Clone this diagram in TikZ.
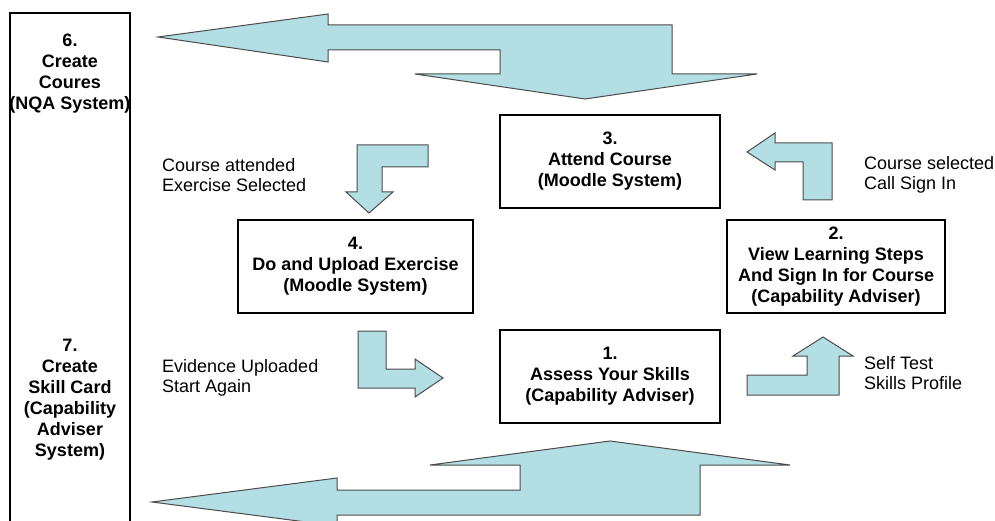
\documentclass[tikz,border=0pt]{standalone}
\usepackage{fontspec}
\setmainfont{Liberation Sans}
\usepackage{tikz}
\usepackage{xcolor}
\definecolor{arrowfill}{RGB}{178,222,228}
\tikzset{stepbox/.style={draw=black,line width=1.4pt,align=center,inner sep=0pt,
   font=\bfseries\fontsize{18}{21}\selectfont},
 sidetext/.style={align=center,inner sep=0pt,font=\bfseries\fontsize{18}{21}\selectfont},
 note/.style={align=left,anchor=west,inner sep=0pt,font=\fontsize{18}{20}\selectfont},
 blockarrow/.style={draw=black!70,line width=1pt,fill=arrowfill},
 }

\begin{document}
\begin{tikzpicture}[x=1pt,y=-1pt]
        \useasboundingbox (0,0) rectangle (995,521);
        \clip (0,0) rectangle (995,521);
        \draw[line width=1.4pt] (10,560) -- (10,13) -- (130,13) -- (130,560);
        \node[sidetext] (six) at (70,74) {6.\\Create\\Coures\\(NQA System)};
        \node[sidetext] (seven) at (70,400) {7.\\Create\\Skill Card\\(Capability\\Adviser\\System)};
        \foreach \nm/\x/\y/\w/\txt in {three/610/161.5/220/{3.\\Attend Course\\(Moodle System)},
            four/355.5/266.5/235/{4.\\Do and Upload Exercise\\(Moodle System)},
            two/836/266.5/218/{2.\\View Learning Steps\\And Sign In for Course\\(Capability Adviser)},
            one/610/376.5/220/{1.\\Assess Your Skills\\(Capability Adviser)}} {
            \node[stepbox, minimum width=\w pt, minimum height=93pt] (\nm) at (\x,\y) {\txt};
        }
        \node[note] (attended) at (162,175) {Course attended\\Exercise Selected};
        \node[note] (uploaded) at (162,378) {Evidence Uploaded\\Start Again};
        \node[note] (selected) at (864,175) {Course selected\\Call Sign In};
        \node[note] (selftest) at (864,373) {Self Test\\Skills Profile};
        \draw[blockarrow] (158,37) -- (328,14) -- (328,25) -- (672,25) -- (672,74) -- (757,74) -- (585,99)
            -- (415,74) -- (500,74) -- (500,50) -- (328,50) -- (328,62) -- cycle;
        \draw[blockarrow] (357,145) -- (428,145) -- (428,167) -- (382,167) -- (382,192) -- (393,192)
            -- (369,213) -- (346,192) -- (357,192) -- cycle;
        \draw[blockarrow] (832,143) -- (832,200) -- (803,200) -- (803,162) -- (775,162) -- (775,170)
            -- (747,152) -- (775,133) -- (775,143) -- cycle;
        \draw[blockarrow] (358,331) -- (386,331) -- (386,369) -- (415,369) -- (415,359) -- (443,378)
            -- (415,397) -- (415,388) -- (358,388) -- cycle;
        \draw[blockarrow] (747,375) -- (807,375) -- (807,356) -- (793,356) -- (823,337) -- (853,356)
            -- (839,356) -- (839,395) -- (747,395) -- cycle;
        \draw[blockarrow] (152,502) -- (337,478) -- (337,490) -- (520,490) -- (520,465) -- (430,465)
            -- (610,441) -- (790,465) -- (700,465) -- (700,515) -- (337,515) -- (337,526) -- cycle;
    \end{tikzpicture}
\end{document}
